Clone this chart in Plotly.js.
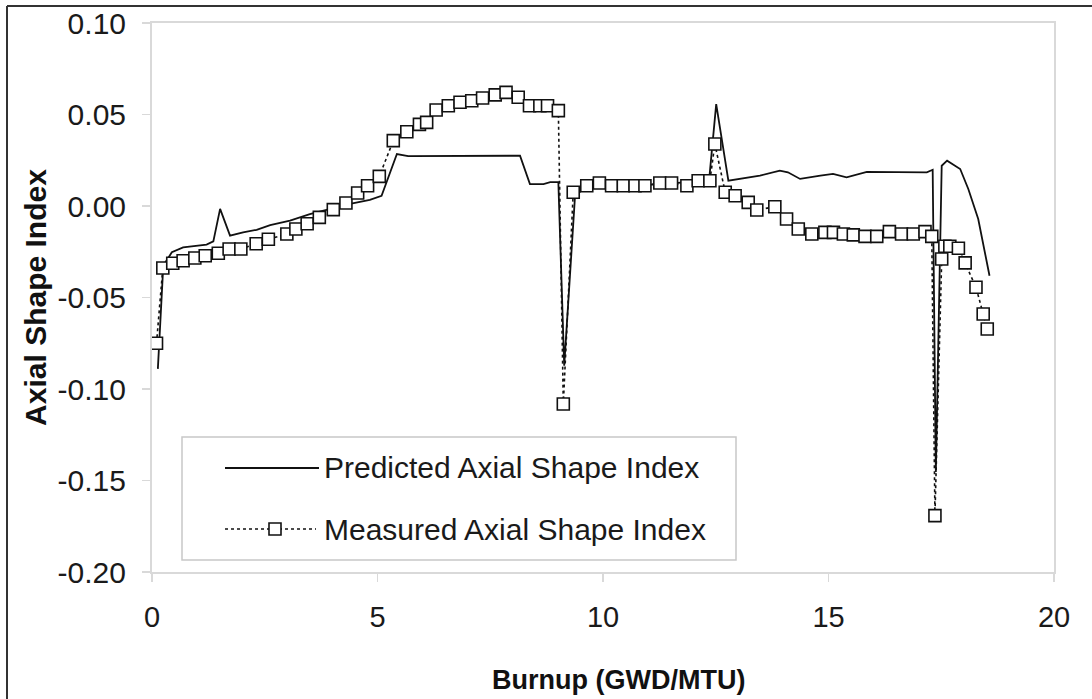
<!DOCTYPE html>
<html><head><meta charset="utf-8">
<script src="https://cdn.plot.ly/plotly-3.0.1.min.js"></script>
<style>html,body{margin:0;padding:0;background:#fff}#chart{width:1092px;height:699px}</style>
</head><body><div id="chart"></div>
<script>
// Predicted Axial Shape Index
const predX = [0.13,0.25,0.44,0.69,1.21,1.36,1.51,1.73,2.02,2.32,2.62,3.06,3.50,3.95,4.39,4.83,5.09,5.43,5.68,8.16,8.38,8.68,8.83,9.01,9.14,9.38,9.62,9.93,10.5,11.0,11.5,12.0,12.35,12.51,12.78,13.48,13.92,14.10,14.37,14.82,15.10,15.40,15.85,17.18,17.31,17.38,17.51,17.63,17.92,18.10,18.32,18.57];
const predY = [-0.089,-0.0326,-0.0253,-0.0226,-0.0211,-0.0193,-0.0016,-0.0162,-0.0144,-0.013,-0.0104,-0.008,-0.0044,-0.0016,0.0011,0.0034,0.0056,0.0284,0.0272,0.0275,0.012,0.012,0.013,0.013,-0.0873,0.0056,0.0104,0.012,0.0115,0.0115,0.0125,0.013,0.0135,0.0557,0.0138,0.0166,0.0193,0.0184,0.0148,0.0166,0.0175,0.0157,0.0187,0.0184,0.0198,-0.1454,0.022,0.0248,0.0202,0.0093,-0.0071,-0.0381];
// Measured Axial Shape Index
const measX = [0.10,0.24,0.46,0.69,0.95,1.18,1.47,1.71,1.97,2.31,2.58,2.99,3.19,3.44,3.71,4.02,4.30,4.56,4.78,5.04,5.35,5.65,5.93,6.09,6.30,6.57,6.83,7.09,7.33,7.61,7.85,8.12,8.37,8.60,8.77,9.01,9.12,9.34,9.64,9.92,10.19,10.45,10.71,10.93,11.26,11.52,11.86,12.11,12.37,12.48,12.71,12.93,13.22,13.41,13.81,14.07,14.33,14.63,14.92,15.11,15.33,15.55,15.81,16.07,16.35,16.62,16.88,17.14,17.29,17.36,17.51,17.58,17.69,17.88,18.03,18.27,18.43,18.52];
const measY = [-0.075,-0.0339,-0.0313,-0.0299,-0.0284,-0.0272,-0.0258,-0.0235,-0.0235,-0.0206,-0.0182,-0.0153,-0.0126,-0.0097,-0.0062,-0.002,0.0016,0.0071,0.0111,0.0162,0.0357,0.0406,0.0446,0.0457,0.0525,0.0548,0.0567,0.0575,0.059,0.0607,0.0621,0.0594,0.0548,0.0548,0.0548,0.0521,-0.1082,0.0075,0.0111,0.0126,0.0111,0.0111,0.0111,0.0111,0.0126,0.0126,0.0111,0.0138,0.0138,0.0339,0.0075,0.0056,0.002,-0.0022,-0.0004,-0.0071,-0.0126,-0.0153,-0.0144,-0.0144,-0.0153,-0.0158,-0.0166,-0.0166,-0.014,-0.0153,-0.0153,-0.014,-0.0166,-0.1692,-0.029,-0.022,-0.022,-0.0231,-0.0311,-0.0444,-0.059,-0.0672];
// Tick labels
const xTickVals = [0,5,10,15,20];
const xTickText = ['0','5','10','15','20'];
const yTickVals = [0.10,0.05,0.00,-0.05,-0.10,-0.15,-0.20];
const yTickText = ['0.10','0.05','0.00','-0.05','-0.10','-0.15','-0.20'];
const seriesNames = ['Predicted Axial Shape Index','Measured Axial Shape Index'];
const xTitle = 'Burnup (GWD/MTU)';
const yTitle = 'Axial Shape Index';

const W = 1092, H = 699, ML = 152, MR = 38, MT = 23, MB = 127;
const PW = W - ML - MR, PH = H - MT - MB;
const px = v => (v - ML) / PW;
const py = v => (H - MB - v) / PH;
const FONT = 'Liberation Sans, Arial, sans-serif';

const traces = [
  {x: predX, y: predY, type: 'scatter', mode: 'lines', name: seriesNames[0],
   line: {color: '#111', width: 1.8}, showlegend: false},
  {x: measX, y: measY, type: 'scatter', mode: 'lines+markers', name: seriesNames[1],
   line: {color: '#111', width: 1.6, dash: 'dot'},
   marker: {symbol: 'square', size: 12, color: '#fff', line: {color: '#111', width: 1.6}},
   showlegend: false}
];

const shapes = [
  // outer frame (top and left)
  {type: 'line', xref: 'paper', yref: 'paper', x0: px(7), x1: px(1092), y0: py(6), y1: py(6), line: {color: '#333', width: 2}},
  {type: 'line', xref: 'paper', yref: 'paper', x0: px(7), x1: px(7), y0: py(6), y1: py(699), line: {color: '#333', width: 2}},
  // legend box
  {type: 'rect', xref: 'paper', yref: 'paper', x0: px(182), x1: px(736), y0: py(560), y1: py(437), line: {color: '#c8c8c8', width: 1.5}, fillcolor: '#fff', layer: 'above'},
  {type: 'line', xref: 'paper', yref: 'paper', x0: px(225), x1: px(319), y0: py(468), y1: py(468), line: {color: '#111', width: 1.8}, layer: 'above'},
  {type: 'line', xref: 'paper', yref: 'paper', x0: px(225), x1: px(316), y0: py(529), y1: py(529), line: {color: '#111', width: 1.6, dash: 'dot'}, layer: 'above'},
  {type: 'rect', xref: 'paper', yref: 'paper', x0: px(269), x1: px(281), y0: py(535), y1: py(523), line: {color: '#111', width: 1.6}, fillcolor: '#fff', layer: 'above'}
];

const annotations = [
  {xref: 'paper', yref: 'paper', x: px(322), y: py(468), xanchor: 'left', yanchor: 'middle', text: seriesNames[0], showarrow: false, font: {family: FONT, size: 30, color: '#1a1a1a'}},
  {xref: 'paper', yref: 'paper', x: px(322), y: py(529), xanchor: 'left', yanchor: 'middle', text: seriesNames[1], showarrow: false, font: {family: FONT, size: 30, color: '#1a1a1a'}},
  {xref: 'paper', yref: 'paper', x: px(618), y: py(680), xanchor: 'center', yanchor: 'middle', text: xTitle, showarrow: false, font: {family: FONT, size: 27, color: '#111', weight: 'bold'}}
];

const layout = {
  width: W, height: H,
  margin: {l: ML, r: MR, t: MT, b: MB, pad: 0},
  paper_bgcolor: '#fff', plot_bgcolor: '#fff',
  font: {family: FONT, size: 28, color: '#1a1a1a'},
  showlegend: false,
  xaxis: {range: [0, 20], tickvals: xTickVals, ticktext: xTickText, showgrid: false, zeroline: false,
    showline: true, mirror: true, linecolor: '#d9d9d9', linewidth: 2,
    ticks: 'outside', ticklen: 8, tickwidth: 1.5, tickcolor: '#d9d9d9', ticklabelstandoff: 10,
    tickfont: {family: FONT, size: 29, color: '#1a1a1a'}},
  yaxis: {range: [-0.2, 0.1], tickvals: yTickVals, ticktext: yTickText, showgrid: false, zeroline: false,
    showline: true, mirror: true, linecolor: '#d9d9d9', linewidth: 2,
    ticks: 'outside', ticklen: 8, tickwidth: 1.5, tickcolor: '#d9d9d9', ticklabelstandoff: 10,
    tickfont: {family: FONT, size: 30, color: '#1a1a1a'},
    title: {text: yTitle, standoff: 2, font: {family: FONT, size: 30, color: '#111', weight: 'bold'}}},
  shapes: shapes,
  annotations: annotations
};

Plotly.newPlot('chart', traces, layout, {displayModeBar: false, staticPlot: true});
</script>
</body></html>
